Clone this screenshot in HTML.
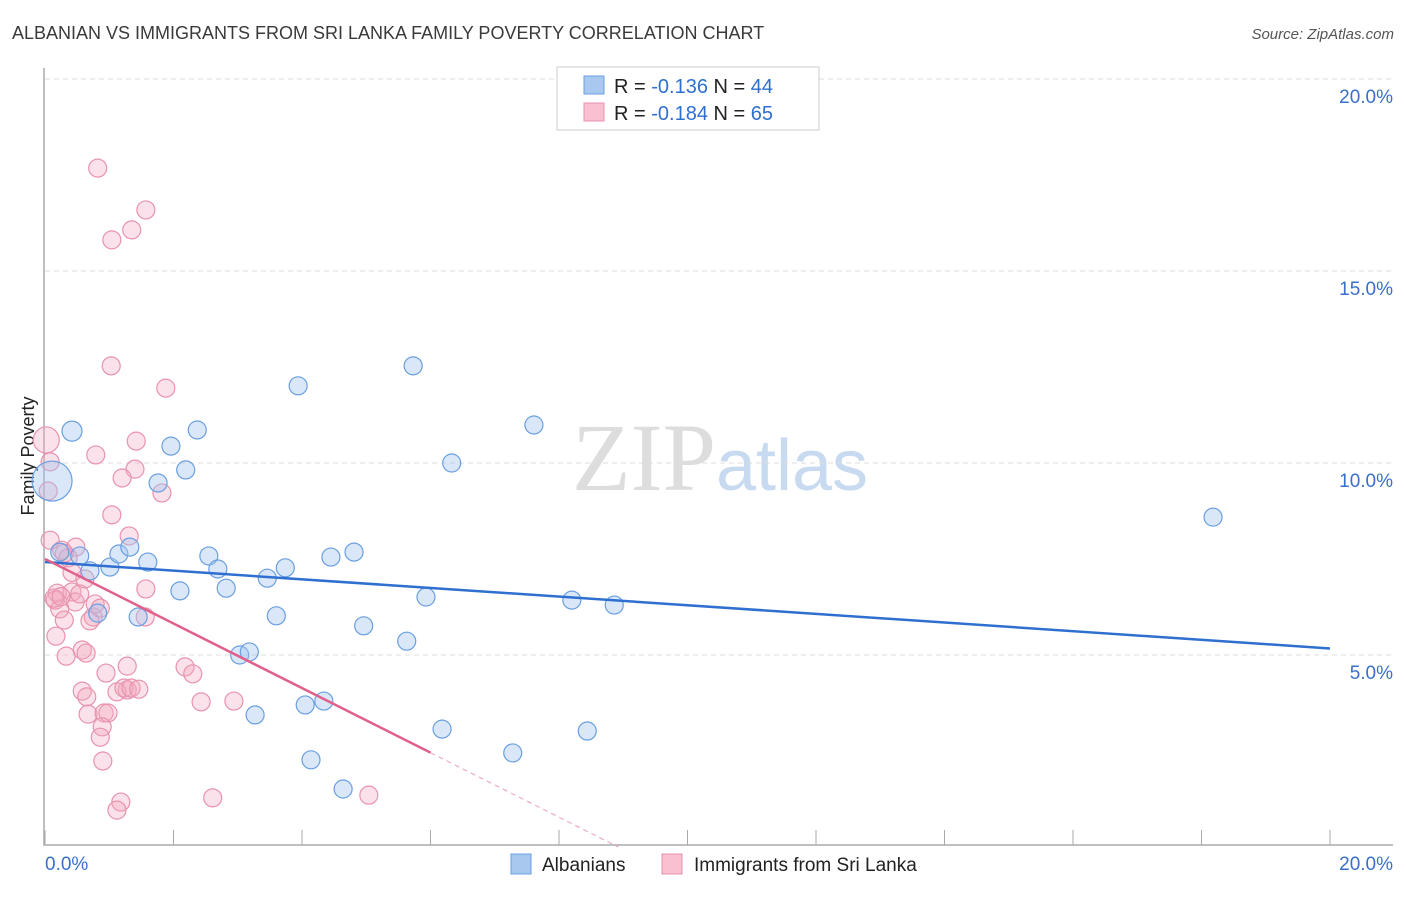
<!DOCTYPE html>
<html><head><meta charset="utf-8"><style>
body{margin:0;background:#fff;font-family:"Liberation Sans",sans-serif}
</style></head><body>
<svg id="chart" width="1406" height="892" xmlns="http://www.w3.org/2000/svg" font-family="Liberation Sans, sans-serif">
<text x="12" y="39" font-size="18" fill="#3a3a3a">ALBANIAN VS IMMIGRANTS FROM SRI LANKA FAMILY POVERTY CORRELATION CHART</text>
<text x="1394" y="39" font-size="15" fill="#555" text-anchor="end" font-style="italic">Source: ZipAtlas.com</text>
<text x="720" y="490" font-size="96" fill="#ddd" text-anchor="middle" font-family="Liberation Serif, serif">ZIP<tspan fill="#c8daf0" font-family="Liberation Sans, sans-serif" font-size="72">atlas</tspan></text>
<text transform="translate(34,456) rotate(-90)" font-size="18" fill="#222" text-anchor="middle">Family Poverty</text>
<g id="grid"></g><g id="pts"></g><g id="trend"></g>
<g>
<rect x="557" y="67" width="262" height="63" fill="#fff" stroke="#ccc"/>
<rect x="584" y="76" width="20" height="18" fill="#a8c8f0" stroke="#6a9fe0"/>
<text x="614" y="93" font-size="20" fill="#222">R = <tspan fill="#2f6fd0">-0.136</tspan>   N = <tspan fill="#2f6fd0">44</tspan></text>
<rect x="584" y="103" width="20" height="18" fill="#f8c0d0" stroke="#e890a8"/>
<text x="614" y="120" font-size="20" fill="#222">R = <tspan fill="#2f6fd0">-0.184</tspan>   N = <tspan fill="#2f6fd0">65</tspan></text>
</g>
<g>
<rect x="511" y="854" width="20" height="20" fill="#a8c8f0" stroke="#6a9fe0"/>
<text x="542" y="871" font-size="19" fill="#222">Albanians</text>
<rect x="662" y="854" width="20" height="20" fill="#f8c0d0" stroke="#e890a8"/>
<text x="694" y="871" font-size="19" fill="#222">Immigrants from Sri Lanka</text>
</g>
</svg>
<script>
const yTicks=[5,10,15,20];
const xTickLabels=["0.0%","20.0%"];
const albX=[0.42,0.11,0.23,0.54,0.70,1.01,1.15,1.32,1.60,0.82,1.45,1.76,1.96,2.19,2.37,2.10,2.55,2.69,2.82,3.03,3.18,3.27,3.46,3.60,3.74,3.94,4.05,4.14,4.34,4.45,4.64,4.81,4.96,5.63,5.73,5.93,6.18,6.33,7.28,7.61,8.20,8.44,8.86,18.18];
const albY=[10.83,9.53,7.68,7.58,7.19,7.29,7.63,7.81,7.42,6.09,5.99,9.48,10.44,9.82,10.86,6.67,7.58,7.24,6.74,5.0,5.08,3.44,7.0,6.02,7.27,12.01,3.70,2.27,3.80,7.55,1.51,7.68,5.76,5.36,12.53,6.51,3.07,10.0,2.45,10.99,6.43,3.02,6.30,8.59];
const sriX=[0.82,1.04,1.35,1.57,1.03,1.88,0.02,0.08,1.42,0.79,0.05,1.40,1.20,1.82,1.04,1.31,0.08,0.26,0.48,0.36,0.62,0.19,0.16,0.23,0.42,0.47,0.54,0.75,0.78,0.70,1.57,1.56,0.30,0.17,0.33,0.58,0.64,1.28,0.95,2.18,2.30,0.58,0.65,1.28,1.12,1.23,1.34,1.46,2.43,2.94,0.67,0.92,0.98,0.89,0.86,0.90,1.18,1.12,2.61,5.04,0.30,0.14,0.42,0.25,0.86];
const sriY=[17.68,15.81,16.07,16.59,12.53,11.95,10.6,10.03,10.57,10.21,9.27,9.84,9.61,9.22,8.65,8.10,7.99,7.73,7.81,7.53,6.98,6.61,6.43,6.20,6.64,6.38,6.59,5.99,6.33,5.89,6.72,5.99,5.91,5.49,4.97,5.13,5.05,4.71,4.53,4.69,4.51,4.06,3.91,4.09,4.04,4.14,4.14,4.11,3.78,3.80,3.46,3.49,3.49,3.13,2.86,2.24,1.17,0.96,1.28,1.35,7.65,6.48,7.15,6.52,6.22];
const NS="http://www.w3.org/2000/svg";
const X=v=>45+v/20*1285, Y=v=>847-v*38.4;
function mk(t,a,p){const e=document.createElementNS(NS,t);for(const k in a)e.setAttribute(k,a[k]);p.appendChild(e);return e;}
const grid=document.getElementById('grid');
yTicks.forEach(t=>{
 const l=mk('line',{x1:45,x2:1393,y1:Y(t),y2:Y(t),stroke:'#ddd','stroke-dasharray':'5,4'},grid);
 
 
 const tx=mk('text',{x:1393,y:Y(t)+24,'font-size':19,fill:'#3a70c8','text-anchor':'end'},grid);
 tx.textContent=t.toFixed(1)+'%';
 
 
});
const ax=mk('path',{d:'M44 68V845H1393',fill:'none',stroke:'#aaa','stroke-width':1.5},grid);


for(let i=0;i<=20;i+=2){
 const tk=mk('line',{x1:X(i),x2:X(i),y1:830,y2:845,stroke:'#aaa'},grid);
 
 
}
xTickLabels.forEach((s,i)=>{
 const tx=mk('text',{x:i?1393:45,y:870,'font-size':19,fill:'#3a70c8','text-anchor':i?'end':'start'},grid);
 tx.textContent=s;
 
 
});
const pts=document.getElementById('pts');
sriX.forEach((x,i)=>{
 const c=mk('circle',{cx:X(x),cy:Y(sriY[i]),r:i==6?13:9,fill:'rgba(244,170,192,0.35)',stroke:'#e893ad','stroke-width':1.2},pts);
 
 
});
albX.forEach((x,i)=>{
 const c=mk('circle',{cx:X(x),cy:Y(albY[i]),r:i==1?20:(i==0?10:9),fill:'rgba(160,196,240,0.4)',stroke:'#6a9fe0','stroke-width':1.2},pts);
 
 
});
function reg(xs,ys){const n=xs.length;let mx=0,my=0;xs.forEach((x,i)=>{mx+=x;my+=ys[i]});mx/=n;my/=n;let sxy=0,sxx=0;xs.forEach((x,i)=>{sxy+=(x-mx)*(ys[i]-my);sxx+=(x-mx)**2});const b=sxy/sxx;return[my-b*mx,b];}
const tr=document.getElementById('trend');
const [a1,b1]=reg(albX,albY);
let l1=mk('line',{x1:X(0),y1:Y(a1),x2:X(20),y2:Y(a1+b1*20),stroke:'#2f6fd0','stroke-width':2.5},tr);


const [a2,b2]=reg(sriX,sriY);
let l2=mk('line',{x1:X(0),y1:Y(a2),x2:X(6),y2:Y(a2+b2*6),stroke:'#e0608a','stroke-width':2.5},tr);


const xe=Math.min(20,-a2/b2);
let l3=mk('line',{x1:X(6),y1:Y(a2+b2*6),x2:X(xe),y2:Y(a2+b2*xe),stroke:'#e8a0b8','stroke-width':1,'stroke-dasharray':'5,4'},tr);


</script>
</body></html>
